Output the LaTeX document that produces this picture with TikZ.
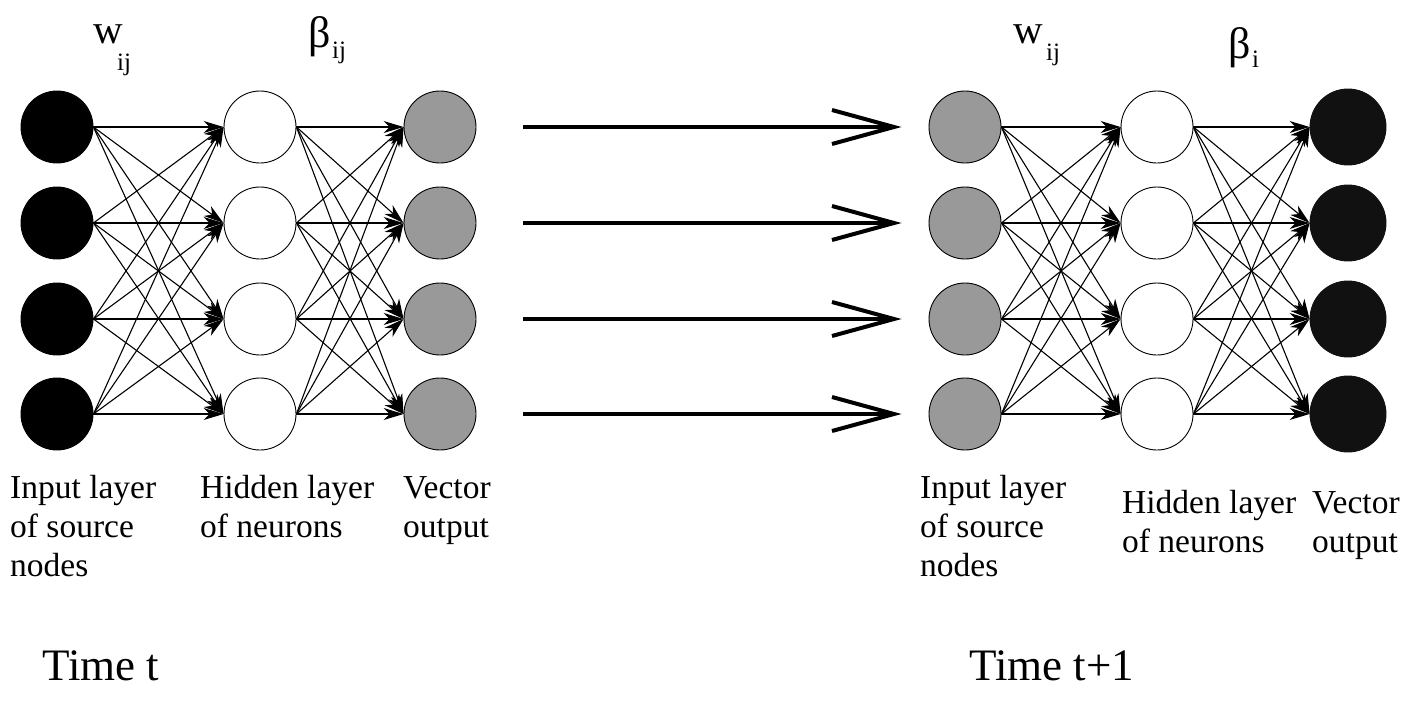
\documentclass[tikz,border=0pt]{standalone}
\usepackage{fontspec}
\setmainfont{Liberation Serif}
\usetikzlibrary{arrows.meta}
\definecolor{midgray}{HTML}{999999}
\definecolor{nearblack}{HTML}{111111}

\begin{document}
\begin{tikzpicture}[x=1pt, y=-1pt,
  neuron/.style={circle, draw=black, line width=0.9pt, minimum size=72pt, inner sep=0pt},
  blackunit/.style={neuron, fill=black},
  hiddenunit/.style={neuron, fill=white},
  grayunit/.style={neuron, fill=midgray},
  darkunit/.style={neuron, fill=nearblack, draw=nearblack, minimum size=76pt},
  link/.style={line width=1.1pt, -{Stealth[length=20pt, width=12pt, inset=6pt]}},
  timestep/.style={line width=4pt, -{Straight Barb[length=62pt, width=34pt]}},
  caption/.style={anchor=base west, inner sep=0pt, align=left,
    font=\fontsize{33.5}{39}\selectfont},
  weight/.style={anchor=base west, inner sep=0pt, font=\fontsize{41}{44}\selectfont},
  greek/.style={anchor=base west, inner sep=0pt, font=\fontsize{44}{48}\selectfont},
  index/.style={anchor=base west, inner sep=0pt, font=\fontsize{25}{28}\selectfont},
  timelabel/.style={anchor=base west, inner sep=0pt, font=\fontsize{45}{48}\selectfont},
]
\useasboundingbox (0,0) rectangle (1420,704);

% network at time t
\foreach \k/\y in {1/127, 2/223, 3/319, 4/414} {
  \node[blackunit]  (la\k) at (57,\y)  {};
  \node[hiddenunit] (lb\k) at (260,\y) {};
  \node[grayunit]   (lc\k) at (440,\y) {};
}
% network at time t+1
\foreach \k/\y in {1/127, 2/223, 3/319, 4/414} {
  \node[grayunit]   (ra\k) at (965,\y)  {};
  \node[hiddenunit] (rb\k) at (1157,\y) {};
  \node[darkunit]   (rc\k) at (1348,\y) {};
}

% full connections between layers
\foreach \i in {1,...,4} {
  \foreach \j in {1,...,4} {
    \draw[link] (la\i.east) -- (lb\j.west);
    \draw[link] (lb\i.east) -- (lc\j.west);
    \draw[link] (ra\i.east) -- (rb\j.west);
    \draw[link] (rb\i.east) -- (rc\j.west);
  }
}

% outputs at t become inputs at t+1
\foreach \k in {1,...,4} {
  \draw[timestep] ([xshift=47pt]lc\k.east) -- ([xshift=-27pt]ra\k.west);
}

% weight labels
\node[weight] (wl) at (93,43) {w};
\node[index] (wlidx) at (117,70) {ij};
\node[greek] (bl) at (308,47) {β};
\node[index] (blidx) at (332,58) {ij};
\node[weight] (wr) at (1013,43) {w};
\node[index] (wridx) at (1046,60) {ij};
\node[greek] (br) at (1228,58) {β};
\node[index] (bridx) at (1252,67) {i};

% layer captions (anchored at the baseline of their last line)
\node[caption] (capla) at (10,576)   {Input layer\\of source\\nodes};
\node[caption] (caplb) at (200,537)  {Hidden layer\\of neurons};
\node[caption] (caplc) at (403,537)  {Vector\\output};
\node[caption] (capra) at (920,576)  {Input layer\\of source\\nodes};
\node[caption] (caprb) at (1122,552) {Hidden layer\\of neurons};
\node[caption] (caprc) at (1312,552) {Vector\\output};

% time stamps
\node[timelabel] (tl) at (42,680)  {Time t};
\node[timelabel] (tr) at (969,680) {Time t+1};
\end{tikzpicture}
\end{document}
